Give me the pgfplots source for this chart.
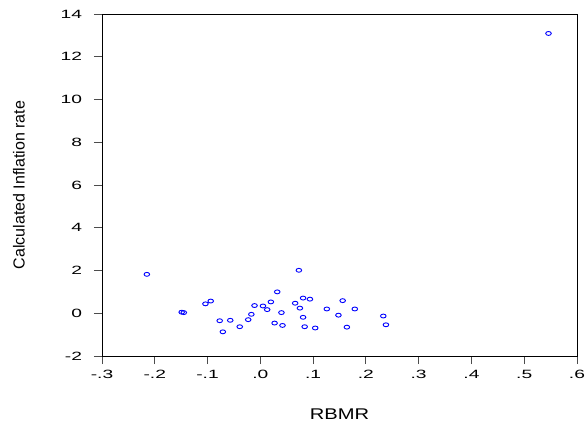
\documentclass[border=0pt]{standalone}
\usepackage{pgfplots}
\pgfplotsset{compat=1.18}
\usepackage{fontspec}
\setmainfont{Liberation Sans}
\begin{document}
\begin{tikzpicture}
\useasboundingbox (-102pt,-69pt) rectangle (484pt,356pt);
\begin{axis}[
  at={(0pt,0pt)}, anchor=south west,
  scale only axis, width=475pt, height=342pt,
  xmin=-0.3, xmax=0.6, ymin=-2, ymax=14,
  xtick={-0.3,-0.2,-0.1,0,0.1,0.2,0.3,0.4,0.5,0.6},
  xticklabels={-.3,-.2,-.1,.0,.1,.2,.3,.4,.5,.6},
  ytick={-2,0,2,4,6,8,10,12,14},
  yticklabels={-2,0,2,4,6,8,10,12,14},
  xtick pos=bottom, ytick pos=left,
  tick align=outside, major tick length=8pt,
  tick style={black!70, line width=0.8pt},
  axis line style={black, line width=0.8pt},
  ticklabel style={font=\fontsize{12}{14}\selectfont, xscale=1.6},
  xticklabel style={yshift=-3pt},
  yticklabel style={xshift=-4pt},
  xlabel={RBMR},
  ylabel={Calculated Inflation rate},
  xlabel style={font=\fontsize{15.5}{17}\selectfont, xscale=1.3, at={(axis description cs:0.5,0)}, anchor=center, yshift=-58pt},
  ylabel style={font=\fontsize{16}{18}\selectfont, at={(axis description cs:0,0.5)}, anchor=center, yshift=83pt},
]
\addplot[only marks, mark=o, mark size=2.8pt, mark options={blue, line width=0.9pt, yscale=0.7}] coordinates {
(-0.215,1.82) (-0.149,0.05) (-0.145,0.03) (-0.104,0.44) (-0.094,0.57)
(-0.077,-0.35) (-0.071,-0.87) (-0.057,-0.33) (-0.039,-0.63) (-0.023,-0.30)
(-0.017,-0.05) (-0.011,0.36) (0.005,0.34) (0.013,0.17) (0.020,0.53)
(0.027,-0.46) (0.032,1.00) (0.040,0.03) (0.042,-0.57) (0.066,0.47)
(0.073,2.01) (0.075,0.24) (0.081,0.71) (0.081,-0.19) (0.084,-0.63)
(0.094,0.66) (0.104,-0.69) (0.126,0.20) (0.148,-0.09) (0.156,0.59)
(0.164,-0.65) (0.179,0.20) (0.233,-0.13) (0.238,-0.54) (0.546,13.09)
};
\end{axis}
\end{tikzpicture}
\end{document}
